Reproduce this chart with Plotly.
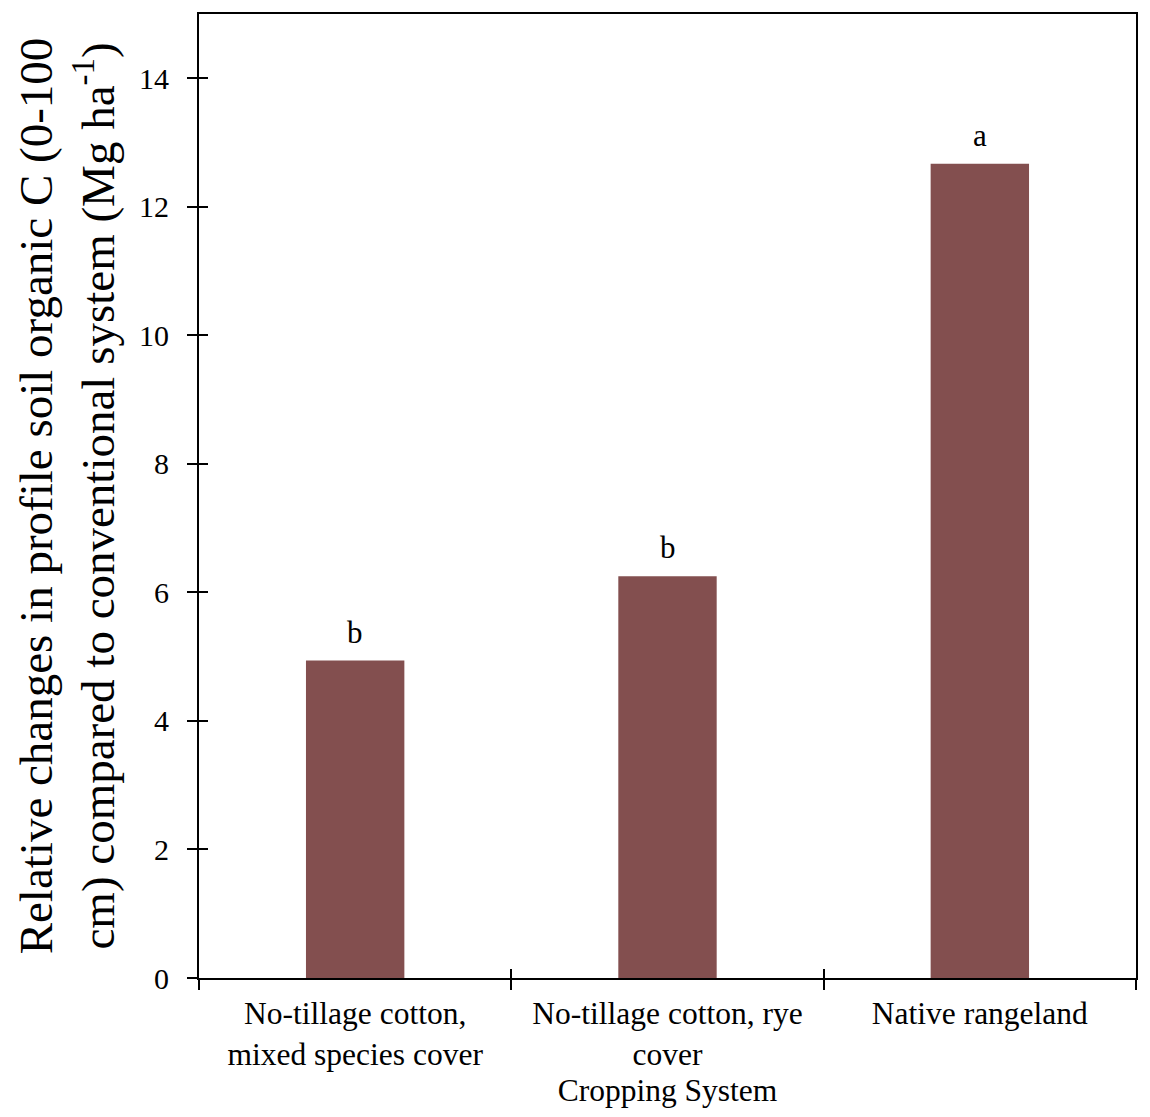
import plotly.graph_objects as go

categories = ["No-tillage cotton,<br>mixed species cover",
              "No-tillage cotton, rye<br>cover",
              "Native rangeland"]
values = [4.94, 6.25, 12.67]
letters = ["b", "b", "a"]
y_ticks = [0, 2, 4, 6, 8, 10, 12, 14]

FONT = "Liberation Serif"
BAR_COLOR = "#834F4F"

fig = go.Figure()
fig.add_trace(go.Bar(x=categories, y=values, marker_color=BAR_COLOR,
                     marker_line_width=0, width=0.315, hoverinfo="skip"))
# invisible trace for the overlay axes carrying inward tick marks
fig.add_trace(go.Scatter(x=categories, y=values, xaxis="x2", yaxis="y2",
                         mode="markers", marker=dict(opacity=0),
                         hoverinfo="skip", showlegend=False))

for c, v, t in zip(categories, values, letters):
    fig.add_annotation(x=c, y=v, text=t, showarrow=False, yanchor="bottom",
                       yshift=9, font=dict(family=FONT, size=31, color="black"))

fig.update_layout(
    width=1150, height=1117,
    margin=dict(l=191, r=22, t=4, b=147),
    paper_bgcolor="white", plot_bgcolor="white",
    showlegend=False,
    font=dict(family=FONT, color="black"),
    xaxis=dict(
        type="category", range=[-0.5, 2.5], tickson="boundaries",
        ticks="outside", ticklen=10, tickwidth=2, tickcolor="black",
        showline=True, linecolor="black", linewidth=2, mirror=True,
        showgrid=False, zeroline=False, ticklabelstandoff=6,
        tickfont=dict(family=FONT, size=31.5, color="black"),
        title=dict(text="Cropping System", standoff=8,
                   font=dict(family=FONT, size=31.5, color="black")),
    ),
    yaxis=dict(
        range=[0, 15], tickvals=y_ticks,
        ticks="outside", ticklen=10, tickwidth=2, tickcolor="black",
        showline=True, linecolor="black", linewidth=2, mirror=True,
        showgrid=False, zeroline=False, ticklabelstandoff=12,
        tickfont=dict(family=FONT, size=30, color="black"),
        title=dict(text="Relative changes in profile soil organic C (0-100<br>cm) compared to conventional system (Mg ha<sup>-1</sup>)",
                   standoff=10,
                   font=dict(family=FONT, size=47, color="black")),
    ),
    xaxis2=dict(
        type="category", overlaying="x", matches="x", anchor="y2",
        tickson="boundaries", ticks="inside", ticklen=9, tickwidth=2,
        tickcolor="black", showticklabels=False, showline=False,
        showgrid=False, zeroline=False,
    ),
    yaxis2=dict(
        overlaying="y", matches="y", anchor="x2", tickvals=y_ticks,
        ticks="inside", ticklen=9, tickwidth=2, tickcolor="black",
        showticklabels=False, showline=False, showgrid=False, zeroline=False,
    ),
)

fig.write_html("out.html")
